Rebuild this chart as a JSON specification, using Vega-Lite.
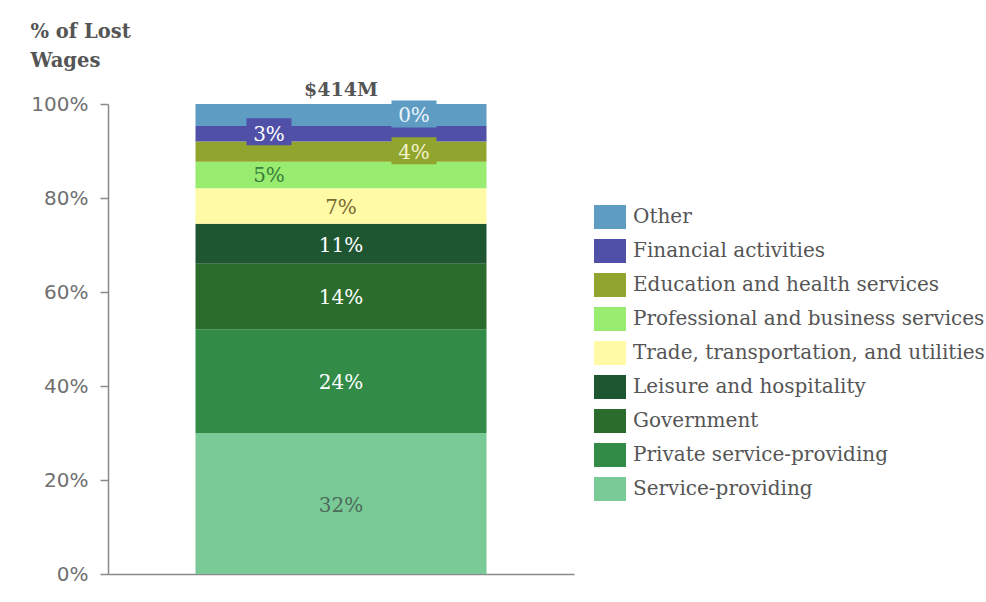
{
  "$schema": "https://vega.github.io/schema/vega-lite/v6.json",
  "width": 466,
  "height": 470,
  "autosize": {"type": "none"},
  "padding": {"left": 108, "top": 104, "right": 412, "bottom": 28},
  "background": "white",
  "config": {"view": {"stroke": null}},
  "data": {
    "values": [
      {"group": "$414M", "category": "Service-providing", "order": 1, "value": 30.0, "label": "32%"},
      {"group": "$414M", "category": "Private service-providing", "order": 2, "value": 22.1, "label": "24%"},
      {"group": "$414M", "category": "Government", "order": 3, "value": 13.9, "label": "14%"},
      {"group": "$414M", "category": "Leisure and hospitality", "order": 4, "value": 8.5, "label": "11%"},
      {"group": "$414M", "category": "Trade, transportation, and utilities", "order": 5, "value": 7.6, "label": "7%"},
      {"group": "$414M", "category": "Professional and business services", "order": 6, "value": 5.6, "label": "5%"},
      {"group": "$414M", "category": "Education and health services", "order": 7, "value": 4.3, "label": "4%"},
      {"group": "$414M", "category": "Financial activities", "order": 8, "value": 3.3, "label": "3%"},
      {"group": "$414M", "category": "Other", "order": 9, "value": 4.7, "label": "0%"}
    ]
  },
  "transform": [
    {"stack": "value", "groupby": ["group"], "sort": [{"field": "order", "order": "ascending"}], "as": ["y0", "y1"]},
    {"calculate": "(datum.y0 + datum.y1) / 2", "as": "mid"}
  ],
  "encoding": {
    "x": {
      "field": "group",
      "type": "nominal",
      "scale": {"paddingInner": 0, "paddingOuter": 0},
      "axis": {"title": null, "labels": false, "ticks": false, "domain": true, "domainColor": "#8a8a8a", "domainWidth": 1.5}
    }
  },
  "layer": [
    {
      "mark": {"type": "bar", "width": 291},
      "encoding": {
        "y": {
          "field": "y0",
          "type": "quantitative",
          "scale": {"domain": [0, 100]},
          "axis": {
            "values": [0, 20, 40, 60, 80, 100],
            "labelExpr": "datum.value + '%'",
            "grid": false,
            "tickSize": 8,
            "tickColor": "#8a8a8a",
            "domainColor": "#8a8a8a",
            "domainWidth": 1.5,
            "tickWidth": 1.5,
            "labelFont": "DejaVu Sans",
            "labelFontSize": 20,
            "labelColor": "#707070",
            "labelPadding": 12,
            "title": ["% of Lost", "Wages"],
            "titleAngle": 0,
            "titleAlign": "left",
            "titleBaseline": "top",
            "titleX": -78,
            "titleY": -82,
            "titleFont": "DejaVu Serif",
            "titleFontSize": 19.5,
            "titleFontWeight": "bold",
            "titleColor": "#555555",
            "titleLineHeight": 29
          }
        },
        "y2": {"field": "y1"},
        "color": {
          "field": "category",
          "type": "nominal",
          "scale": {
            "domain": ["Other", "Financial activities", "Education and health services", "Professional and business services", "Trade, transportation, and utilities", "Leisure and hospitality", "Government", "Private service-providing", "Service-providing"],
            "range": ["#5f9cc3", "#5050a8", "#91a52e", "#98ec70", "#fffaa5", "#1f5632", "#2b6b2b", "#328b47", "#79ca96"]
          },
          "legend": {
            "title": null,
            "orient": "none",
            "legendX": 490,
            "legendY": 101,
            "padding": 0,
            "symbolType": "M-1.333,-1H1.333V1H-1.333Z",
            "symbolSize": 576,
            "symbolStrokeWidth": 0,
            "symbolOpacity": 1,
            "rowPadding": 10,
            "labelOffset": 11,
            "labelFont": "DejaVu Serif",
            "labelFontSize": 20,
            "labelColor": "#555555",
            "labelLimit": 0
          }
        },
        "order": {"field": "order", "type": "quantitative"}
      }
    },
    {
      "transform": [{"filter": "datum.category === 'Financial activities'"}],
      "mark": {"type": "point", "shape": "M-1.667,-1H1.667V1H-1.667Z", "size": 729, "filled": true, "opacity": 1, "xOffset": -72, "yOffset": -2},
      "encoding": {
        "y": {"field": "mid", "type": "quantitative"},
        "color": {"field": "category", "type": "nominal", "legend": null}
      }
    },
    {
      "transform": [{"filter": "datum.category === 'Other' || datum.category === 'Education and health services'"}],
      "mark": {"type": "point", "shape": "M-1.667,-1H1.667V1H-1.667Z", "size": 729, "filled": true, "opacity": 1, "xOffset": 73, "yOffset": -1},
      "encoding": {
        "y": {"field": "mid", "type": "quantitative"},
        "color": {"field": "category", "type": "nominal", "legend": null}
      }
    },
    {
      "transform": [{"filter": "datum.order <= 5"}],
      "mark": {"type": "text", "font": "DejaVu Serif", "fontSize": 20, "baseline": "middle", "dy": 2},
      "encoding": {
        "y": {"field": "mid", "type": "quantitative"},
        "text": {"field": "label"},
        "color": {
          "condition": [
            {"test": "datum.category === 'Service-providing'", "value": "#4d6b5a"},
            {"test": "datum.category === 'Trade, transportation, and utilities'", "value": "#7a6b35"}
          ],
          "value": "#ffffff"
        }
      }
    },
    {
      "transform": [{"filter": "datum.category === 'Professional and business services' || datum.category === 'Financial activities'"}],
      "mark": {"type": "text", "font": "DejaVu Serif", "fontSize": 20, "baseline": "middle", "dx": -72, "dy": 1},
      "encoding": {
        "y": {"field": "mid", "type": "quantitative"},
        "text": {"field": "label"},
        "color": {
          "condition": [
            {"test": "datum.category === 'Professional and business services'", "value": "#3b7d3b"}
          ],
          "value": "#ffffff"
        }
      }
    },
    {
      "transform": [{"filter": "datum.category === 'Other' || datum.category === 'Education and health services'"}],
      "mark": {"type": "text", "font": "DejaVu Serif", "fontSize": 20, "baseline": "middle", "dx": 73, "dy": 1},
      "encoding": {
        "y": {"field": "mid", "type": "quantitative"},
        "text": {"field": "label"},
        "color": {
          "condition": [
            {"test": "datum.category === 'Other'", "value": "#eaf4fa"}
          ],
          "value": "#f3f1c8"
        }
      }
    },
    {
      "transform": [{"filter": "datum.order === 9"}],
      "mark": {"type": "text", "font": "DejaVu Serif", "fontSize": 19, "fontWeight": "bold", "baseline": "middle", "dy": -14, "color": "#555555"},
      "encoding": {
        "y": {"datum": 100, "type": "quantitative"},
        "text": {"field": "group"}
      }
    }
  ]
}
